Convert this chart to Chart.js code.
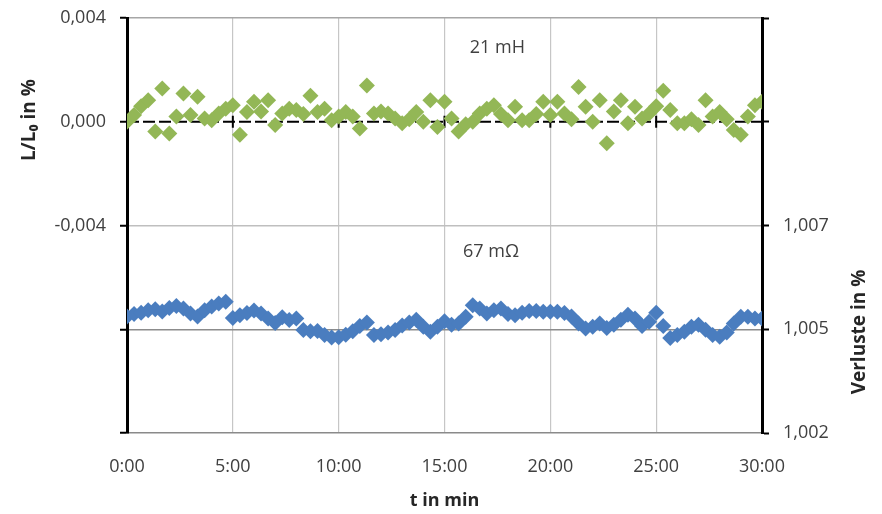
<!DOCTYPE html>
<html>
<head>
<meta charset="utf-8">
<script src="https://cdn.jsdelivr.net/npm/chart.js@4.4.1/dist/chart.umd.min.js"></script>
<style>
  html, body { margin: 0; padding: 0; background: #fff; }
</style>
</head>
<body>
<canvas id="chart" width="882" height="514"></canvas>
<script>
// Messzeitpunkte (alle 20 s)
const sampleTimes = [
  '0:00','0:20','0:40','1:00','1:20','1:40','2:00','2:20','2:40',
  '3:00','3:20','3:40','4:00','4:20','4:40','5:00','5:20','5:40',
  '6:00','6:20','6:40','7:00','7:20','7:40','8:00','8:20','8:40',
  '9:00','9:20','9:40','10:00','10:20','10:40','11:00','11:20','11:40',
  '12:00','12:20','12:40','13:00','13:20','13:40','14:00','14:20','14:40',
  '15:00','15:20','15:40','16:00','16:20','16:40','17:00','17:20','17:40',
  '18:00','18:20','18:40','19:00','19:20','19:40','20:00','20:20','20:40',
  '21:00','21:20','21:40','22:00','22:20','22:40','23:00','23:20','23:40',
  '24:00','24:20','24:40','25:00','25:20','25:40','26:00','26:20','26:40',
  '27:00','27:20','27:40','28:00','28:20','28:40','29:00','29:20','29:40',
  '30:00'
];

// L/L0 in % (21 mH)
const inductance = [
  0, 0.00026, 0.0006, 0.00083, -0.00038, 0.00128, -0.00045, 0.0002, 0.00109,
  0.00026, 0.00096, 0.00013, 0.00006, 0.00032, 0.0005, 0.00064, -0.0005, 0.00038,
  0.00077, 0.0004, 0.00083, -0.00013, 0.00032, 0.0005, 0.00045, 0.0003, 0.001,
  0.00038, 0.0005, 0.00006, 0.0002, 0.00038, 0.0002, -0.00026, 0.0014, 0.00032,
  0.0004, 0.00032, 0.00013, -0.00006, 0.0001, 0.00038, 0, 0.00083, -0.0002,
  0.00077, 0.00013, -0.00038, -0.0001, 0, 0.00032, 0.0005, 0.00064, 0.0003,
  0.00006, 0.00058, 0.00006, 0.00006, 0.0003, 0.00077, 0.00026, 0.00077, 0.00032,
  0.0001, 0.00134, 0.00058, 0, 0.00083, -0.00083, 0.0004, 0.00083, -0.00006,
  0.00058, 0.00013, 0.00032, 0.0006, 0.0012, 0.00045, -0.00006, -0.00006, 0.0001,
  -0.00013, 0.00083, 0.0002, 0.00038, 0.0001, -0.00032, -0.0005, 0.0002, 0.00064,
  0.00077
];

// Verluste in % (67 mOhm)
const losses = [
  1.00531, 1.00537, 1.00540, 1.00546, 1.00548, 1.00543, 1.00551, 1.00556, 1.00550,
  1.00538, 1.00531, 1.00546, 1.00555, 1.00562, 1.00566, 1.00527, 1.00534, 1.00539,
  1.00545, 1.00538, 1.00526, 1.00515, 1.00529, 1.00522, 1.00526, 1.00498, 1.00495,
  1.00496, 1.00486, 1.00480, 1.00481, 1.00487, 1.00495, 1.00508, 1.00516, 1.00486,
  1.00488, 1.00492, 1.00498, 1.00509, 1.00516, 1.00523, 1.00506, 1.00494, 1.00506,
  1.00519, 1.00511, 1.00514, 1.00530, 1.00558, 1.00550, 1.00538, 1.00546, 1.00550,
  1.00537, 1.00534, 1.00540, 1.00544, 1.00544, 1.00542, 1.00542, 1.00542, 1.00539,
  1.00531, 1.00514, 1.00502, 1.00506, 1.00514, 1.00503, 1.00511, 1.00523, 1.00535,
  1.00526, 1.00508, 1.00518, 1.00540, 1.00508, 1.00479, 1.00486, 1.00494, 1.00506,
  1.00511, 1.00499, 1.00486, 1.00482, 1.00492, 1.00514, 1.00530, 1.00530, 1.00526,
  1.00526
];

const timeTickValues = [0, 5, 10, 15, 20, 25, 30];
const timeTickLabels = ['0:00', '5:00', '10:00', '15:00', '20:00', '25:00', '30:00'];
const leftTickValues = [-0.012, -0.008, -0.004, 0, 0.004];
const leftTickLabels = ['', '', '-0,004', '0,000', '0,004'];
const rightTickValues = [1.0025, 1.005, 1.0075, 1.01, 1.0125];
const rightTickLabels = ['1,002', '1,005', '1,007', '', ''];

const toMinutes = t => {
  const [m, s] = t.split(':');
  return Number(m) + Number(s) / 60;
};

const FONT = "'Open Sans', sans-serif";
const TEXT = '#404040';
const GREEN = '#93b756';
const BLUE = '#4a7dbf';

// Null-Linie (gestrichelt) mit Teilstrichen, Achsentitel und Beschriftungen
const extras = {
  id: 'extras',
  beforeDatasetsDraw(chart) {
    const { ctx, chartArea: a, scales: { x, y } } = chart;
    const y0 = y.getPixelForValue(0);
    ctx.save();
    ctx.strokeStyle = '#000';
    ctx.lineWidth = 2;
    ctx.setLineDash([12, 4]);
    ctx.beginPath();
    ctx.moveTo(a.left, y0);
    ctx.lineTo(a.right, y0);
    ctx.stroke();
    ctx.setLineDash([]);
    ctx.beginPath();
    x.ticks.forEach(t => {
      const px = x.getPixelForValue(t.value);
      ctx.moveTo(px, y0 - 6);
      ctx.lineTo(px, y0 + 6);
    });
    ctx.stroke();
    ctx.restore();
  },
  afterDraw(chart) {
    const { ctx, scales: { x, y, y2 } } = chart;
    ctx.save();
    ctx.fillStyle = '#262626';
    ctx.font = `bold 19px ${FONT}`;
    ctx.textAlign = 'center';
    ctx.textBaseline = 'middle';

    ctx.save();
    ctx.translate(30, 120);
    ctx.rotate(-Math.PI / 2);
    ctx.fillText('L/L\u2080 in %', 0, 0);
    ctx.restore();

    ctx.save();
    ctx.translate(860, 332);
    ctx.rotate(-Math.PI / 2);
    ctx.fillText('Verluste in %', 0, 0);
    ctx.restore();

    ctx.fillStyle = TEXT;
    ctx.font = `18px ${FONT}`;
    ctx.fillText('21 mH', x.getPixelForValue(17.5), y.getPixelForValue(0.00285));
    ctx.fillText('67 m\u03A9', x.getPixelForValue(17.2), y2.getPixelForValue(1.00686));
    ctx.restore();
  }
};

const leftGridColors = ['rgba(0,0,0,0)', '#8c8c8c', '#bfbfbf', 'rgba(0,0,0,0)', '#a6a6a6'];

const fitVertical = w => s => {
  s.width = w;
  s.paddingTop = 0;
  s.paddingBottom = 0;
};

new Chart(document.getElementById('chart'), {
  type: 'scatter',
  data: {
    datasets: [
      {
        label: '21 mH',
        data: sampleTimes.map((t, i) => ({ x: toMinutes(t), y: inductance[i] })),
        yAxisID: 'y',
        pointStyle: 'rectRot',
        pointRadius: 8,
        pointHoverRadius: 8,
        borderWidth: 0,
        backgroundColor: GREEN,
        borderColor: GREEN
      },
      {
        label: '67 m\u03A9',
        data: sampleTimes.map((t, i) => ({ x: toMinutes(t), y: losses[i] })),
        yAxisID: 'y2',
        pointStyle: 'rectRot',
        pointRadius: 8,
        pointHoverRadius: 8,
        borderWidth: 0,
        backgroundColor: BLUE,
        borderColor: BLUE
      }
    ]
  },
  options: {
    responsive: false,
    animation: false,
    layout: { padding: { top: 18, left: 0, right: 0, bottom: 0 } },
    plugins: {
      legend: { display: false },
      tooltip: { enabled: false }
    },
    scales: {
      x: {
        type: 'linear',
        min: 0,
        max: 30,
        afterBuildTicks: s => { s.ticks = timeTickValues.map(v => ({ value: v })); },
        afterFit: s => { s.height = 81; },
        ticks: {
          callback: (v, i) => timeTickLabels[i],
          color: TEXT,
          font: { family: FONT, size: 18 },
          padding: 23,
          maxRotation: 0
        },
        grid: { color: '#c6c6c6', lineWidth: 1.2, drawTicks: false },
        border: { color: '#8a8a8a', width: 1.5 },
        title: {
          display: true,
          text: 't in min',
          color: '#262626',
          font: { family: FONT, size: 18, weight: 'bold' },
          padding: { top: 0, bottom: 2 }
        }
      },
      y: {
        position: 'left',
        min: -0.012,
        max: 0.004,
        afterBuildTicks: s => { s.ticks = leftTickValues.map(v => ({ value: v })); },
        afterFit: fitVertical(127),
        ticks: {
          callback: (v, i) => leftTickLabels[i],
          color: TEXT,
          font: { family: FONT, size: 18 },
          padding: 14
        },
        grid: {
          color: c => leftGridColors[c.index],
          lineWidth: 1.5,
          tickColor: '#000',
          tickLength: 7,
          tickWidth: 2
        },
        border: { color: '#000', width: 3 }
      },
      y2: {
        position: 'right',
        min: 1.0025,
        max: 1.0125,
        afterBuildTicks: s => { s.ticks = rightTickValues.map(v => ({ value: v })); },
        afterFit: fitVertical(120),
        ticks: {
          callback: (v, i) => rightTickLabels[i],
          color: TEXT,
          font: { family: FONT, size: 18 },
          padding: 14
        },
        grid: {
          drawOnChartArea: false,
          tickColor: '#000',
          tickLength: 7,
          tickWidth: 2
        },
        border: { color: '#000', width: 3 }
      }
    }
  },
  plugins: [extras]
});
</script>
</body>
</html>
